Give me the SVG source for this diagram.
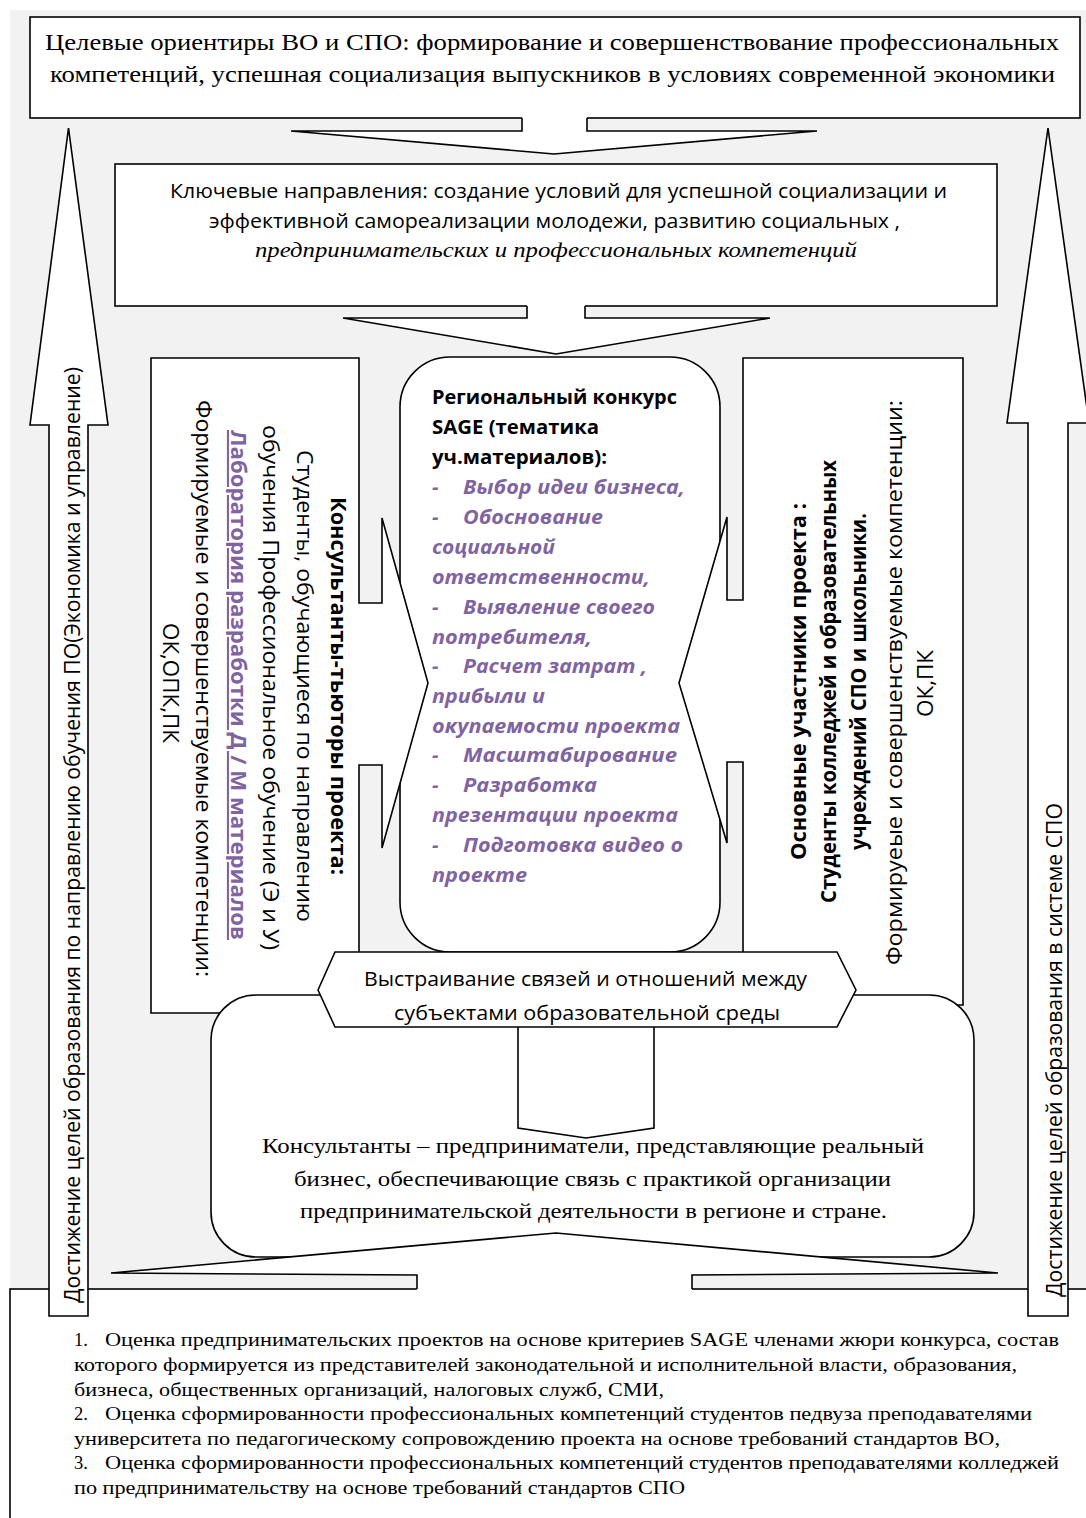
<svg xmlns="http://www.w3.org/2000/svg" width="1086" height="1518" viewBox="0 0 1086 1518">
<style>
.bx{fill:#fff;stroke:#000;stroke-width:1.6}
.fl{fill:#fff;stroke:none}
.ln{fill:none;stroke:#000;stroke-width:1.6;stroke-linejoin:miter}
.serif{font-family:"Liberation Serif","Times New Roman",serif;fill:#000}
.sans{font-family:"Open Sans","Noto Sans",sans-serif;fill:#000}
.b{font-weight:bold}
.pu{fill:#8064a2;font-weight:bold;font-style:italic}
.pl{fill:#8064a2;font-weight:bold;text-decoration:underline}
</style>
<rect x="10" y="10" width="1080" height="1285" fill="#f2f2f2"/>

<g id="evaluation">
<rect class="bx" x="10" y="1289" width="1090" height="250"/>
<g class="serif" font-size="18.5" xml:space="preserve">
<text x="74" y="1346">1.</text><text x="105" y="1346" textLength="954" lengthAdjust="spacingAndGlyphs">Оценка  предпринимательских проектов на основе критериев SAGE  членами жюри конкурса, состав</text>
<text x="74" y="1371" textLength="943" lengthAdjust="spacingAndGlyphs">которого формируется  из представителей законодательной и исполнительной власти, образования,</text>
<text x="74" y="1396" textLength="590" lengthAdjust="spacingAndGlyphs">бизнеса, общественных организаций, налоговых служб, СМИ,</text>
<text x="74" y="1420">2.</text><text x="105" y="1420" textLength="927" lengthAdjust="spacingAndGlyphs">Оценка  сформированности профессиональных компетенций  студентов педвуза преподавателями</text>
<text x="74" y="1445" textLength="926" lengthAdjust="spacingAndGlyphs">университета по педагогическому сопровождению проекта на основе требований стандартов ВО,</text>
<text x="74" y="1469">3.</text><text x="105" y="1469" textLength="954" lengthAdjust="spacingAndGlyphs">Оценка  сформированности профессиональных компетенций  студентов преподавателями колледжей</text>
<text x="74" y="1494" textLength="611" lengthAdjust="spacingAndGlyphs">по предпринимательству на основе требований стандартов СПО</text>
</g>
</g>

<g id="goals">
<rect class="bx" x="30" y="17" width="1050" height="101" stroke-width="2"/>
<text class="serif" font-size="24" x="45" y="50" textLength="1014" lengthAdjust="spacingAndGlyphs">Целевые ориентиры ВО и СПО: формирование и совершенствование профессиональных</text>
<text class="serif" font-size="24" x="50" y="82" textLength="1005" lengthAdjust="spacingAndGlyphs">компетенций, успешная социализация выпускников в условиях современной экономики</text>
</g>

<g id="directions">
<rect class="bx" x="115" y="164" width="882" height="142"/>
<text class="sans" font-size="20" x="170" y="198" textLength="777" lengthAdjust="spacingAndGlyphs">Ключевые направления: создание условий для успешной социализации и</text>
<text class="sans" font-size="20" x="209" y="228" textLength="691" lengthAdjust="spacingAndGlyphs">эффективной самореализации молодежи, развитию социальных ,</text>
<text class="serif" font-size="21" font-style="italic" x="255" y="257" textLength="602" lengthAdjust="spacingAndGlyphs">предпринимательских и профессиональных компетенций</text>
</g>

<g id="contest">
<rect class="bx" x="400" y="357" width="320" height="595" rx="50" ry="50"/>
<g class="sans" font-size="20">
<text class="b" x="432" y="404" textLength="245" lengthAdjust="spacingAndGlyphs">Региональный конкурс</text>
<text class="b" x="432" y="434" textLength="167" lengthAdjust="spacingAndGlyphs">SAGE (тематика</text>
<text class="b" x="432" y="464" textLength="175" lengthAdjust="spacingAndGlyphs">уч.материалов):</text>
<text class="pu" x="432" y="494">-</text><text class="pu" x="463" y="494" textLength="222" lengthAdjust="spacingAndGlyphs">Выбор идеи бизнеса,</text>
<text class="pu" x="432" y="524">-</text><text class="pu" x="463" y="524" textLength="140" lengthAdjust="spacingAndGlyphs">Обоснование</text>
<text class="pu" x="432" y="554" textLength="123" lengthAdjust="spacingAndGlyphs">социальной</text>
<text class="pu" x="432" y="584" textLength="218" lengthAdjust="spacingAndGlyphs">ответственности,</text>
<text class="pu" x="432" y="614">-</text><text class="pu" x="463" y="614" textLength="192" lengthAdjust="spacingAndGlyphs">Выявление своего</text>
<text class="pu" x="432" y="644" textLength="160" lengthAdjust="spacingAndGlyphs">потребителя,</text>
<text class="pu" x="432" y="673">-</text><text class="pu" x="463" y="673" textLength="184" lengthAdjust="spacingAndGlyphs">Расчет затрат ,</text>
<text class="pu" x="432" y="703" textLength="113" lengthAdjust="spacingAndGlyphs">прибыли и</text>
<text class="pu" x="432" y="733" textLength="248" lengthAdjust="spacingAndGlyphs">окупаемости проекта</text>
<text class="pu" x="432" y="762">-</text><text class="pu" x="463" y="762" textLength="214" lengthAdjust="spacingAndGlyphs">Масштабирование</text>
<text class="pu" x="432" y="792">-</text><text class="pu" x="463" y="792" textLength="134" lengthAdjust="spacingAndGlyphs">Разработка</text>
<text class="pu" x="432" y="822" textLength="246" lengthAdjust="spacingAndGlyphs">презентации проекта</text>
<text class="pu" x="432" y="852">-</text><text class="pu" x="463" y="852" textLength="220" lengthAdjust="spacingAndGlyphs">Подготовка видео о</text>
<text class="pu" x="432" y="882" textLength="95" lengthAdjust="spacingAndGlyphs">проекте</text>
</g>
</g>

<g id="tutors">
<path class="bx" d="M151,358 H359 V603 H382 V518 L428,683 L382,848 V765 H359 V1013 H151 Z"/>
<g class="sans" font-size="21">
<text class="b" x="331" y="497" transform="rotate(90 331 497)" textLength="378" lengthAdjust="spacingAndGlyphs">Консультанты-тьюторы проекта:</text>
<text x="297" y="450" transform="rotate(90 297 450)" textLength="472" lengthAdjust="spacingAndGlyphs">Студенты, обучающиеся по направлению</text>
<text x="263" y="425" transform="rotate(90 263 425)" textLength="525" lengthAdjust="spacingAndGlyphs">обучения Профессиональное обучение (Э и У)</text>
<text class="pl" x="231" y="430" transform="rotate(90 231 430)" textLength="510" lengthAdjust="spacingAndGlyphs">Лаборатория разработки Д / М материалов</text>
<text x="196" y="400" transform="rotate(90 196 400)" textLength="577" lengthAdjust="spacingAndGlyphs">Формируемые и совершенствуемые компетенции:</text>
<text x="163" y="623" transform="rotate(90 163 623)" textLength="120" lengthAdjust="spacingAndGlyphs">ОК,ОПК,ПК</text>
</g>
</g>

<g id="participants">
<path class="bx" d="M743,358 H963 V1005 H743 V762 H727 V843 L679,683 L727,517 V600 H743 Z"/>
<g class="sans" font-size="21">
<text class="b" x="806" y="860" transform="rotate(-90 806 860)" textLength="357" lengthAdjust="spacingAndGlyphs">Основные участники проекта :</text>
<text class="b" x="836" y="903" transform="rotate(-90 836 903)" textLength="443" lengthAdjust="spacingAndGlyphs">Студенты колледжей и образовательных</text>
<text class="b" x="866" y="850" transform="rotate(-90 866 850)" textLength="337" lengthAdjust="spacingAndGlyphs">учреждений СПО и школьники.</text>
<text x="902" y="965" transform="rotate(-90 902 965)" textLength="565" lengthAdjust="spacingAndGlyphs">Формируеые и совершенствуемые компетенции:</text>
<text x="933" y="717" transform="rotate(-90 933 717)" textLength="67" lengthAdjust="spacingAndGlyphs">ОК,ПК</text>
</g>
</g>

<g id="consultants">
<rect class="bx" x="211" y="995" width="763" height="262" rx="45" ry="45"/>
<g class="serif" font-size="22">
<text x="262" y="1153" textLength="662" lengthAdjust="spacingAndGlyphs">Консультанты – предприниматели, представляющие реальный</text>
<text x="294" y="1186" textLength="597" lengthAdjust="spacingAndGlyphs">бизнес, обеспечивающие связь с практикой организации</text>
<text x="300" y="1218" textLength="587" lengthAdjust="spacingAndGlyphs">предпринимательской деятельности в регионе и стране.</text>
</g>
</g>

<g id="relations">
<polygon class="bx" points="318,990 335,952 837,952 856,990 837,1027 335,1027"/>
<text class="sans" font-size="20" x="364" y="986" textLength="443" lengthAdjust="spacingAndGlyphs">Выстраивание связей и отношений между</text>
<text class="sans" font-size="20" x="394" y="1020" textLength="386" lengthAdjust="spacingAndGlyphs">субъектами образовательной среды</text>
</g>

<g id="connectors">
<polygon class="fl" points="522,116 522,131 291,131 554,154 817,131 587,131 587,116"/>
<polyline class="ln" points="522,118 522,131 291,131 554,154 817,131 587,131 587,118"/>
<polygon class="fl" points="527,304 527,318 343,318 556,354 770,318 585,318 585,304"/>
<polyline class="ln" points="527,306 527,318 343,318 556,354 770,318 585,318 585,306"/>
<polyline class="ln" points="518,1027 518,1128 586,1138 654,1128 654,1027"/>
<polygon class="fl" points="417,1296 417,1275 111,1273 556,1233 998,1273 692,1275 692,1296"/>
<polyline class="ln" points="417,1289 417,1275 111,1273 556,1233 998,1273 692,1275 692,1289"/>
<polygon class="bx" points="49,1316 49,425 30,425 68.5,128 108,425 88,425 88,1316"/>
<text class="sans" font-size="21" x="80" y="1303" transform="rotate(-90 80 1303)" textLength="936" lengthAdjust="spacingAndGlyphs">Достижение целей образования по направлению обучения ПО(Экономика и управление)</text>
<polygon class="bx" points="1028,1316 1028,423 1007,423 1048,128 1089,423 1068,423 1068,1316"/>
<text class="sans" font-size="21" x="1062" y="1297" transform="rotate(-90 1062 1297)" textLength="494" lengthAdjust="spacingAndGlyphs">Достижение целей образования в системе СПО</text>
</g>
</svg>
